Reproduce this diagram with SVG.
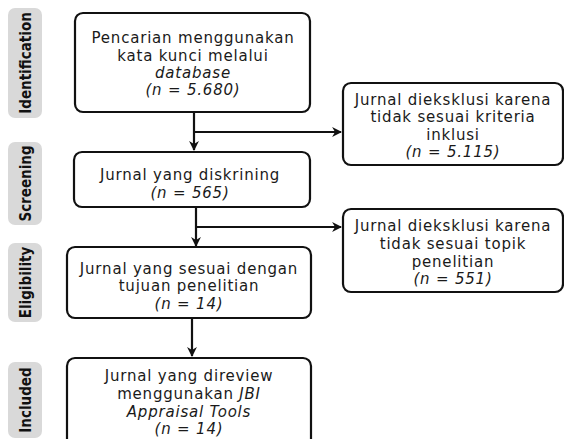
<svg xmlns="http://www.w3.org/2000/svg" width="564" height="439" viewBox="0 0 564 439">
<style>
.box{fill:#fff;stroke:#111;stroke-width:2.2}
.side{fill:#d9d9d9}
.t{font-family:"DejaVu Sans","Noto Sans",sans-serif;font-size:15px;fill:#1a1a1a;text-anchor:middle;letter-spacing:0.8px}
.i{font-style:italic}
.s{font-family:"DejaVu Sans Condensed","DejaVu Sans",sans-serif;font-weight:bold;font-size:15px;fill:#111;text-anchor:middle}
.c{stroke:#111;stroke-width:2.2;fill:none}
</style>
<defs>
<marker id="ah" viewBox="0 0 10 10" refX="9" refY="5" markerWidth="4.5" markerHeight="4.5" orient="auto" markerUnits="strokeWidth">
<path d="M0,0 L10,5 L0,10 L3,5 Z" fill="#111"/>
</marker>
</defs>
<g id="side-identification"><rect class="side" x="8" y="8" width="34" height="110" rx="7"/><text class="s" transform="translate(30.5,63) rotate(-90)">Identification</text></g>
<g id="side-screening"><rect class="side" x="8" y="142" width="34" height="83" rx="7"/><text class="s" transform="translate(30.5,183.5) rotate(-90)">Screening</text></g>
<g id="side-eligibility"><rect class="side" x="8" y="243" width="34" height="79" rx="7"/><text class="s" transform="translate(30.5,282.5) rotate(-90)">Eligibility</text></g>
<g id="side-included"><rect class="side" x="8" y="362" width="34" height="76" rx="7"/><text class="s" transform="translate(30.5,400) rotate(-90)">Included</text></g>
<g id="n1"><rect class="box" x="75" y="13" width="235" height="99" rx="8"/>
<text class="t" x="193" y="43">Pencarian menggunakan</text>
<text class="t" x="193" y="61">kata kunci melalui</text>
<text class="t i" x="193" y="78">database</text>
<text class="t i" x="193" y="95">(n = 5.680)</text></g>
<g id="n2"><rect class="box" x="74" y="152" width="236" height="55" rx="8"/>
<text class="t" x="190" y="180">Jurnal yang diskrining</text>
<text class="t i" x="190" y="198">(n = 565)</text></g>
<g id="n3"><rect class="box" x="67" y="247" width="244" height="71" rx="8"/>
<text class="t" x="189" y="274">Jurnal yang sesuai dengan</text>
<text class="t" x="189" y="291">tujuan penelitian</text>
<text class="t i" x="189" y="309">(n = 14)</text></g>
<g id="n4"><rect class="box" x="67" y="358" width="244" height="90" rx="8"/>
<text class="t" x="189" y="381">Jurnal yang direview</text>
<text class="t" x="189" y="399">menggunakan <tspan class="i">JBI</tspan></text>
<text class="t i" x="189" y="417">Appraisal Tools</text>
<text class="t i" x="189" y="434">(n = 14)</text></g>
<g id="r1"><rect class="box" x="343" y="83" width="220" height="82" rx="8"/>
<text class="t" x="453" y="105">Jurnal dieksklusi karena</text>
<text class="t" x="453" y="122">tidak sesuai kriteria</text>
<text class="t" x="453" y="140">inklusi</text>
<text class="t i" x="453" y="157">(n = 5.115)</text></g>
<g id="r2"><rect class="box" x="343" y="209" width="220" height="83" rx="8"/>
<text class="t" x="453" y="231">Jurnal dieksklusi karena</text>
<text class="t" x="453" y="249">tidak sesuai topik</text>
<text class="t" x="453" y="267">penelitian</text>
<text class="t i" x="453" y="284">(n = 551)</text></g>
<g id="connectors">
<line class="c" x1="194" y1="112" x2="194" y2="150" marker-end="url(#ah)"/>
<line class="c" x1="194" y1="132" x2="341" y2="132" marker-end="url(#ah)"/>
<line class="c" x1="196" y1="207" x2="196" y2="246" marker-end="url(#ah)"/>
<line class="c" x1="196" y1="227" x2="341" y2="227" marker-end="url(#ah)"/>
<line class="c" x1="192" y1="318" x2="192" y2="356" marker-end="url(#ah)"/>
</g>
</svg>
